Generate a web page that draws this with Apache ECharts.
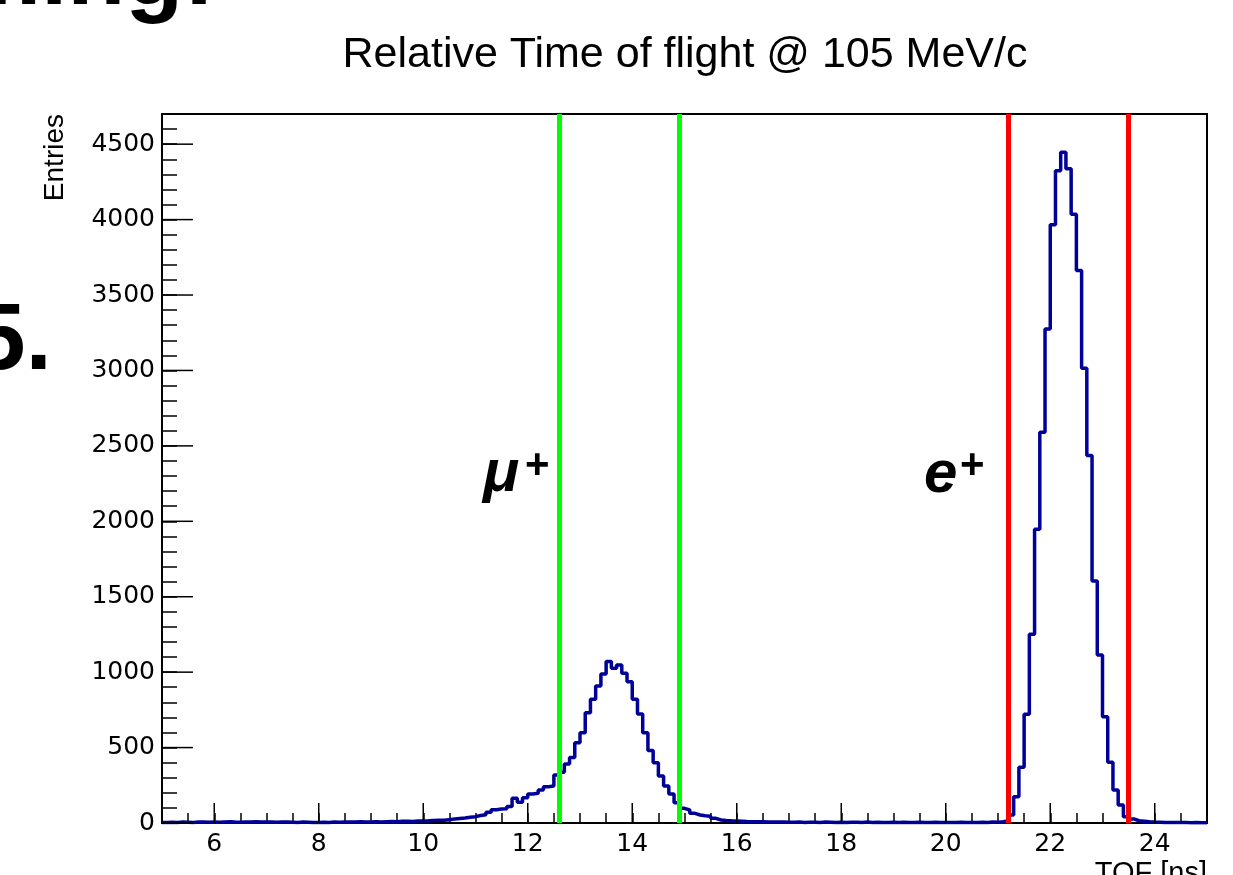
<!DOCTYPE html>
<html><head><meta charset="utf-8">
<script src="https://cdn.jsdelivr.net/npm/echarts@6/dist/echarts.min.js"></script>
<style>html,body{margin:0;padding:0;background:#fff}#c{width:1233px;height:875px}</style>
</head><body><div id="c"></div>
<script>
const titleText = 'Relative Time of flight @ 105 MeV/c';
const xTitle = 'TOF [ns]';
const yTitle = 'Entries';
const xRange = [5, 25];
const nBins = 200;
// entries per 0.1 ns bin, from 5.0 ns to 25.0 ns
const counts = [
  4,5,3,6,5,4,6,7,5,6,
  5,7,8,6,5,7,6,8,7,6,
  6,5,7,6,5,4,6,5,4,3,
  5,4,6,5,6,7,6,8,7,6,
  8,7,9,10,9,11,12,10,13,14,
  15,17,19,18,22,26,30,33,38,42,
  50,55,72,88,93,95,110,164,137,168,
  192,197,219,241,245,318,336,391,435,532,
  599,731,820,908,988,1070,1026,1048,993,937,
  820,723,599,480,400,312,245,192,135,97,
  86,64,53,48,45,31,20,17,15,14,
  12,10,9,9,8,7,7,6,6,5,
  5,6,4,5,5,4,6,5,4,5,
  4,5,5,4,6,4,5,3,4,5,
  4,5,4,3,5,4,4,5,3,4,
  4,3,5,4,3,4,5,4,6,5,
  8,15,53,174,369,721,1251,1947,2591,3274,
  3966,4324,4447,4337,4036,3663,3015,2436,1605,1114,
  705,402,219,119,42,27,15,12,8,6,
  5,4,4,3,4,3,2,3,2,2
];
const yRange = [0, 4700];
const xMajorTicks = [6, 8, 10, 12, 14, 16, 18, 20, 22, 24];
const yMajorTicks = [0, 500, 1000, 1500, 2000, 2500, 3000, 3500, 4000, 4500];
const muCuts = [12.6, 14.9];
const eCuts = [21.2, 23.5];

const binW = (xRange[1] - xRange[0]) / nBins;
const histData = counts.map((c, i) => [+(xRange[0] + i * binW).toFixed(3), c]);
histData.push([xRange[1], counts[counts.length - 1]]);

const chart = echarts.init(document.getElementById('c'), null, {renderer: 'canvas'});
const labelFont = 'DejaVu Sans';
const textFont = 'Liberation Sans';

chart.setOption({
  animation: false,
  backgroundColor: '#fff',
  title: {
    text: titleText, left: 680, top: 29, textAlign: 'center',
    textStyle: {fontSize: 43, fontWeight: 'normal', color: '#000', fontFamily: textFont}
  },
  grid: {left: 162, right: 26, top: 114, bottom: 52, show: true, borderColor: '#000', borderWidth: 2, backgroundColor: 'transparent'},
  xAxis: {
    type: 'value', min: xRange[0], max: xRange[1], interval: 0.5,
    axisLine: {lineStyle: {color: '#000', width: 2}},
    axisTick: {inside: true, length: 10, lineStyle: {color: '#000', width: 1.5}},
    axisLabel: {
      formatter: v => (Math.abs(v % 2) < 1e-9 && v > xRange[0] && v < xRange[1]) ? String(v) : '',
      fontSize: 25, color: '#000', fontFamily: labelFont, margin: 9
    },
    splitLine: {show: false}
  },
  yAxis: {
    type: 'value', min: yRange[0], max: yRange[1], interval: 100,
    axisLine: {lineStyle: {color: '#000', width: 2}},
    axisTick: {inside: true, length: 15, lineStyle: {color: '#000', width: 1.5}},
    axisLabel: {
      formatter: v => (v % 500 === 0 && v < yRange[1]) ? String(v) : '',
      fontSize: 25, color: '#000', fontFamily: labelFont, margin: 7
    },
    splitLine: {show: false}
  },
  graphic: [
    {type: 'text', x: 55, y: 114, rotation: Math.PI / 2,
     style: {text: yTitle, font: '28px "Liberation Sans"', fill: '#000', align: 'right', verticalAlign: 'middle'}},
    {type: 'text', x: 1207, y: 859,
     style: {text: xTitle, font: '29px "Liberation Sans"', fill: '#000', align: 'right', verticalAlign: 'top'}},
    {type: 'text', x: 483, y: 474,
     style: {text: 'μ', font: 'italic bold 60px "Liberation Sans"', fill: '#000', align: 'left', verticalAlign: 'middle'}},
    {type: 'text', x: 525, y: 466,
     style: {text: '+', font: 'bold 42px "Liberation Sans"', fill: '#000', align: 'left', verticalAlign: 'middle'}},
    {type: 'text', x: 924, y: 475,
     style: {text: 'e', font: 'italic bold 60px "Liberation Sans"', fill: '#000', align: 'left', verticalAlign: 'middle'}},
    {type: 'text', x: 960, y: 466,
     style: {text: '+', font: 'bold 42px "Liberation Sans"', fill: '#000', align: 'left', verticalAlign: 'middle'}},
    {type: 'text', x: 215, y: -22,
     style: {text: 'ming:', font: 'bold 95px "Liberation Sans"', fill: '#000', align: 'right', verticalAlign: 'middle'}},
    {type: 'text', x: 52, y: 343,
     style: {text: '5.', font: 'bold 95px "Liberation Sans"', fill: '#000', align: 'right', verticalAlign: 'middle'}}
  ],
  series: [
    {
      type: 'line', data: histData, step: 'end', showSymbol: false, symbol: 'none',
      lineStyle: {color: '#000099', width: 3.5}, z: 2, clip: true
    },
    {
      type: 'line', data: [], z: 5,
      markLine: {
        silent: true, symbol: 'none', label: {show: false},
        data: [
          ...muCuts.map(v => ({xAxis: v, lineStyle: {color: '#00ff00', width: 5, type: 'solid'}})),
          ...eCuts.map(v => ({xAxis: v, lineStyle: {color: '#ff0000', width: 5, type: 'solid'}}))
        ]
      }
    },
    {
      type: 'custom', silent: true, clip: false, z: 6,
      data: xMajorTicks.map(v => [v, yRange[0]]),
      renderItem: (params, api) => {
        const p = api.coord([api.value(0), api.value(1)]);
        return {type: 'line', shape: {x1: p[0], y1: p[1], x2: p[0], y2: p[1] - 20}, style: {stroke: '#000', lineWidth: 1.5}};
      }
    },
    {
      type: 'custom', silent: true, clip: false, z: 6,
      data: yMajorTicks.map(v => [xRange[0], v]),
      renderItem: (params, api) => {
        const p = api.coord([api.value(0), api.value(1)]);
        return {type: 'line', shape: {x1: p[0], y1: p[1], x2: p[0] + 31, y2: p[1]}, style: {stroke: '#000', lineWidth: 1.5}};
      }
    }
  ]
});
</script></body></html>
